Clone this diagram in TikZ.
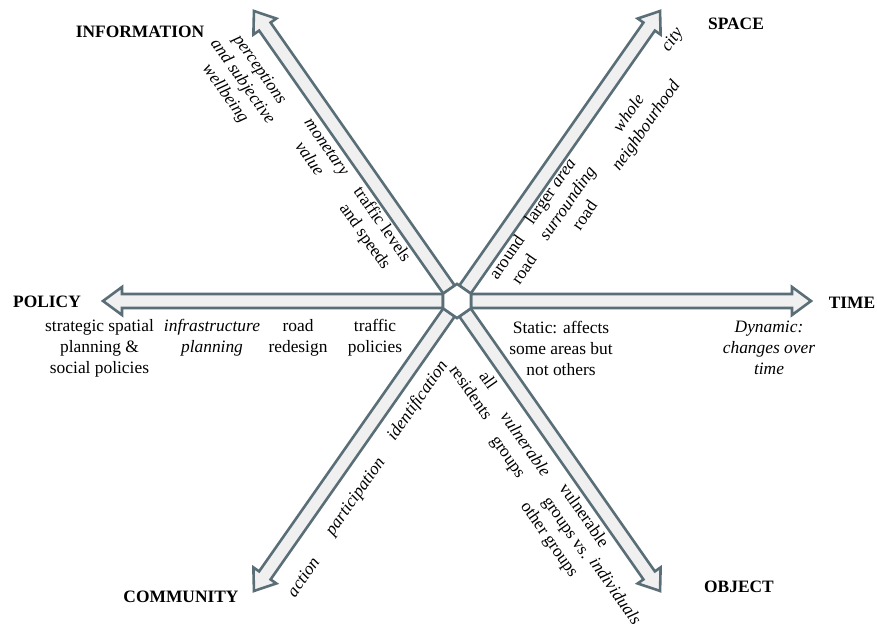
\documentclass[tikz,border=0pt]{standalone}
\usepackage{fontspec}
\setmainfont{Liberation Serif}
\definecolor{edgec}{HTML}{5A6E77}
\definecolor{shaftc}{HTML}{F0F0F0}
\tikzset{
 bigarrow/.style={draw=edgec, fill=shaftc, line width=2.6pt, line join=miter},
 hexsty/.style={draw=edgec, fill=white, line width=2.6pt, line join=miter},
 lab/.style={font=\fontsize{17.4}{21}\selectfont\bfseries, inner sep=0pt},
 txt/.style={font=\fontsize{17.4}{21}\selectfont, align=center, inner sep=0pt},
 itx/.style={font=\fontsize{17.4}{21}\selectfont\itshape, align=center, inner sep=0pt},
}
\begin{document}
\begin{tikzpicture}[x=1pt,y=1pt]
\useasboundingbox (0,0) rectangle (877,629);
\coordinate (C) at (457,328);
% arrows
\foreach \a in {0,55,125,180,235,305}{
  \draw[bigarrow, shift={(C)}, rotate=\a] (14,-7) -- (335,-7) -- (335,-14) -- (354,0) -- (335,14) -- (335,7) -- (14,7) -- cycle;
}
% hexagon
\draw[hexsty, shift={(C)}] (27.5:15.8) -- (90:17.1) -- (152.5:15.8) -- (207.5:15.8) -- (270:17.1) -- (332.5:15.8) -- cycle;
% axis labels
\node[lab] (info) at (140,597) {INFORMATION};
\node[lab] (space) at (736,605) {SPACE};
\node[lab] (policy) at (47,327) {POLICY};
\node[lab] (time) at (852,326) {TIME};
\node[lab] (community) at (181,32) {COMMUNITY};
\node[lab] (object) at (739,42) {OBJECT};
% information
\node[itx, rotate=-55] (i1) at (242,547) {perceptions\\and subjective\\wellbeing};
\node[itx, rotate=-55] (i2) at (318,476) {monetary\\value};
\node[txt, rotate=-55] (i3) at (373,398) {traffic levels\\and speeds};
% space
\node[txt, rotate=55] (s1) at (515,366) {around\\road};
\node[txt, rotate=55] (s2) at (567,426) {larger \textit{area}\\\textit{surrounding}\\road};
\node[itx, rotate=55] (s3) at (638,509) {whole\\neighbourhood};
\node[itx, rotate=55] (s4) at (673,589) {city};
% policy
\node[txt] (p1) at (99.5,281) {strategic spatial\\planning \&\\social policies};
\node[itx] (p2) at (212,291.5) {infrastructure\\planning};
\node[txt] (p3) at (298,291.5) {road\\redesign};
\node[txt] (p4) at (375,291.5) {traffic\\policies};
% time
\node[txt] (t1) at (561,281) {Static: affects\\some areas but\\not others};
\node[itx] (t2) at (769,281) {Dynamic:\\changes over\\time};
% community
\node[itx, rotate=55] (c1) at (303,52) {action};
\node[itx, rotate=55] (c2) at (356,132) {participation};
\node[itx, rotate=55] (c3) at (418,228) {identification};
% object
\node[txt, rotate=-55] (o1) at (480,243) {all\\residents};
\node[txt, rotate=-55] (o2) at (516,178) {\textit{vulnerable}\\groups};
\node[txt, rotate=-55] (o3) at (566,101) {vulnerable\\groups vs.\\other groups};
\node[itx, rotate=-55] (o4) at (616,38) {individuals};
\end{tikzpicture}
\end{document}
